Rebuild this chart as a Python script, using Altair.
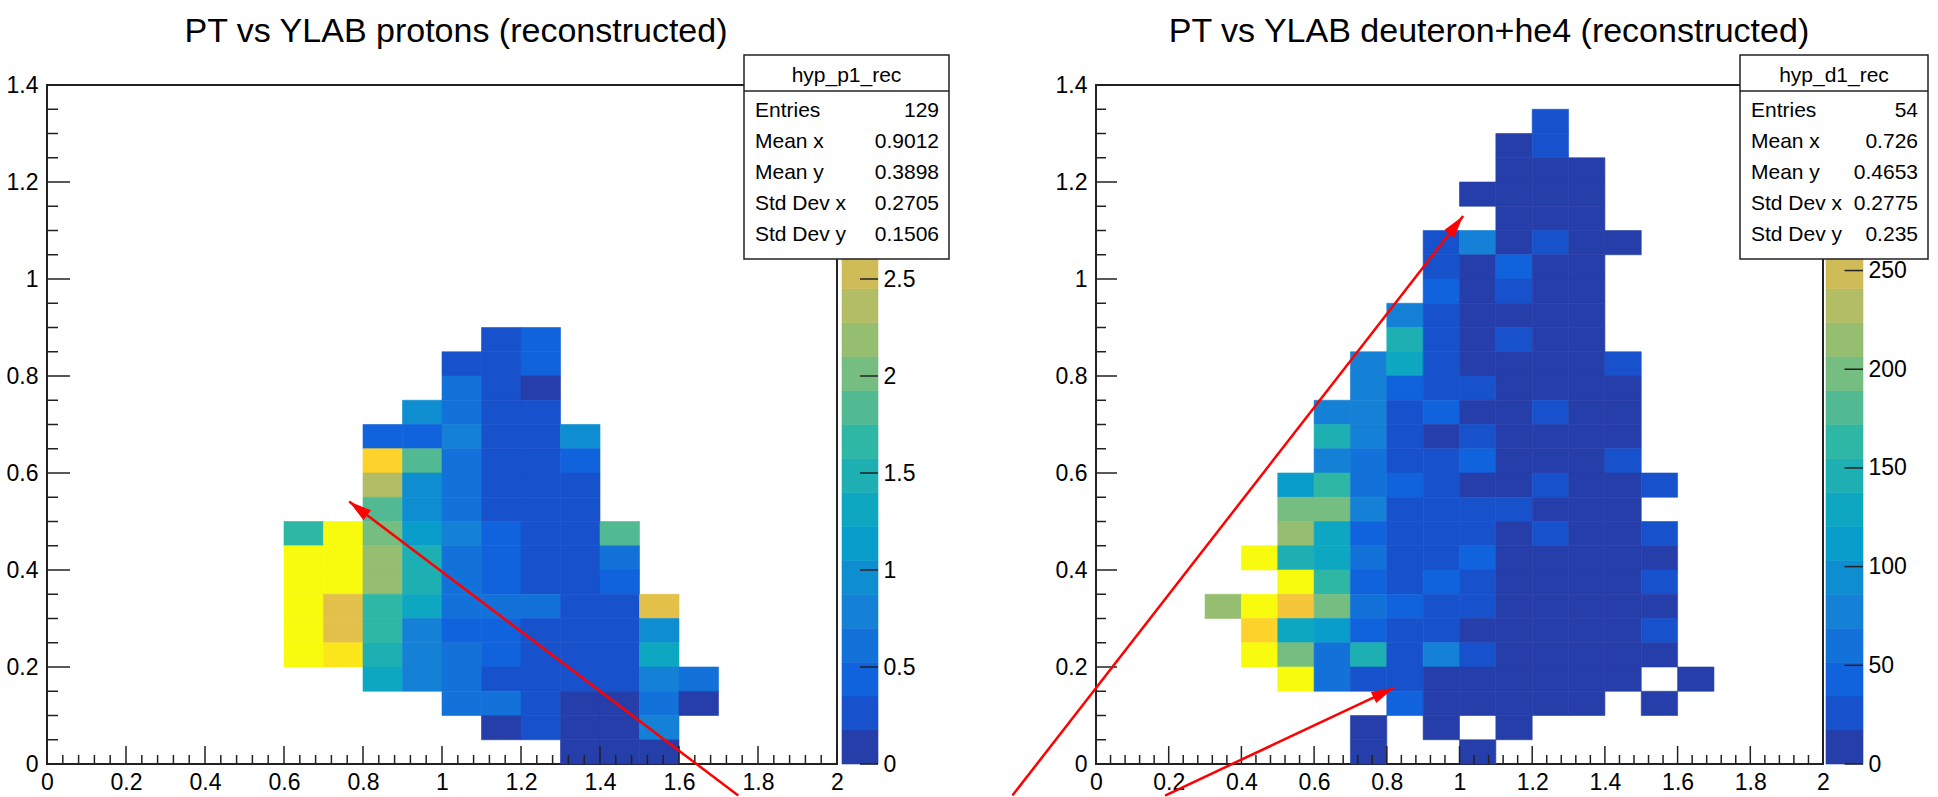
import math

import altair as alt
import pandas as pd

FONT = "Liberation Sans Narrow, Arial Narrow, Noto Sans Condensed, Liberation Sans, Arial, sans-serif"
INK = "#222222"
ARROW_RED = "#ff0000"

# ROOT kBird palette, split into 20 contour levels
BIRD_STOPS = [0.0000, 0.1250, 0.2500, 0.3750, 0.5000, 0.6250, 0.7500, 0.8750, 1.0000]
BIRD_R = [0.2082, 0.0592, 0.0780, 0.0232, 0.1802, 0.5301, 0.8186, 0.9956, 0.9764]
BIRD_G = [0.1664, 0.3599, 0.5041, 0.6419, 0.7178, 0.7492, 0.7328, 0.7862, 0.9832]
BIRD_B = [0.5293, 0.8684, 0.8385, 0.7914, 0.6425, 0.4662, 0.3499, 0.1968, 0.0539]
N_CONTOURS = 20

# ---- protons: PT (y) vs YLAB (x), bin contents, rows listed from top to bottom
P_XBINS = [0.6, 0.7, 0.8, 0.9, 1.0, 1.1, 1.2, 1.3, 1.4, 1.5, 1.6]
P_YBINS = [0.85, 0.80, 0.75, 0.70, 0.65, 0.60, 0.55, 0.50, 0.45,
           0.40, 0.35, 0.30, 0.25, 0.20, 0.15, 0.10, 0.05, 0.00]
P_COUNTS = [
    [0, 0, 0, 0, 0, 0.26, 0.44, 0, 0, 0, 0],
    [0, 0, 0, 0, 0.26, 0.26, 0.44, 0, 0, 0, 0],
    [0, 0, 0, 0, 0.61, 0.26, 0.09, 0, 0, 0, 0],
    [0, 0, 0, 0.96, 0.61, 0.26, 0.26, 0, 0, 0, 0],
    [0, 0, 0.44, 0.44, 0.79, 0.26, 0.26, 0.96, 0, 0, 0],
    [0, 0, 3.06, 1.84, 0.61, 0.26, 0.26, 0.44, 0, 0, 0],
    [0, 0, 2.36, 0.96, 0.61, 0.26, 0.26, 0.26, 0, 0, 0],
    [0, 0, 1.84, 0.96, 0.61, 0.26, 0.26, 0.26, 0, 0, 0],
    [1.66, 3.41, 2.01, 1.14, 0.79, 0.44, 0.26, 0.26, 1.84, 0, 0],
    [3.41, 3.41, 2.19, 1.49, 0.61, 0.44, 0.26, 0.26, 0.61, 0, 0],
    [3.41, 3.41, 2.19, 1.49, 0.61, 0.44, 0.26, 0.26, 0.44, 0, 0],
    [3.41, 2.71, 1.66, 1.31, 0.61, 0.61, 0.61, 0.26, 0.26, 2.71, 0],
    [3.41, 2.71, 1.66, 0.79, 0.44, 0.44, 0.26, 0.26, 0.26, 0.96, 0],
    [3.41, 3.24, 1.49, 0.79, 0.61, 0.44, 0.26, 0.26, 0.26, 1.31, 0],
    [0, 0, 1.31, 0.79, 0.61, 0.26, 0.26, 0.26, 0.26, 0.79, 0.61],
    [0, 0, 0, 0, 0.61, 0.61, 0.26, 0.09, 0.09, 0.61, 0.09],
    [0, 0, 0, 0, 0, 0.09, 0.26, 0.09, 0.09, 0.79, 0],
    [0, 0, 0, 0, 0, 0, 0, 0.09, 0.09, 0.09, 0],
]
P_ZMAX = 3.5
P_SCALE_LABELS = [0, 0.5, 1, 1.5, 2, 2.5]
P_TITLE = "PT vs YLAB protons (reconstructed)"
P_STATS_NAME = "hyp_p1_rec"
P_STATS = [("Entries", "129"), ("Mean x", "0.9012"), ("Mean y", "0.3898"),
           ("Std Dev x", "0.2705"), ("Std Dev y", "0.1506")]
P_ARROWS = [{"x_tail": 1.75, "y_tail": -0.065, "x_tip": 0.765, "y_tip": 0.541}]

# ---- deuteron + he4
D_XBINS = [0.3, 0.4, 0.5, 0.6, 0.7, 0.8, 0.9, 1.0, 1.1, 1.2, 1.3, 1.4, 1.5, 1.6]
D_YBINS = [1.30, 1.25, 1.20, 1.15, 1.10, 1.05, 1.00, 0.95, 0.90, 0.85, 0.80,
           0.75, 0.70, 0.65, 0.60, 0.55, 0.50, 0.45, 0.40, 0.35, 0.30, 0.25,
           0.20, 0.15, 0.10, 0.05, 0.00]
D_COUNTS = [
    [0, 0, 0, 0, 0, 0, 0, 0, 0, 26, 0, 0, 0, 0],
    [0, 0, 0, 0, 0, 0, 0, 0, 9, 26, 0, 0, 0, 0],
    [0, 0, 0, 0, 0, 0, 0, 0, 9, 9, 9, 0, 0, 0],
    [0, 0, 0, 0, 0, 0, 0, 9, 9, 9, 9, 0, 0, 0],
    [0, 0, 0, 0, 0, 0, 0, 0, 9, 9, 9, 0, 0, 0],
    [0, 0, 0, 0, 0, 0, 26, 77, 9, 26, 9, 9, 0, 0],
    [0, 0, 0, 0, 0, 0, 26, 9, 43, 9, 9, 0, 0, 0],
    [0, 0, 0, 0, 0, 0, 43, 9, 26, 9, 9, 0, 0, 0],
    [0, 0, 0, 0, 0, 77, 26, 9, 9, 9, 9, 0, 0, 0],
    [0, 0, 0, 0, 0, 146, 26, 9, 26, 9, 9, 0, 0, 0],
    [0, 0, 0, 0, 77, 129, 26, 9, 9, 9, 9, 26, 0, 0],
    [0, 0, 0, 0, 77, 43, 26, 26, 9, 9, 9, 9, 0, 0],
    [0, 0, 0, 77, 77, 26, 43, 9, 9, 26, 9, 9, 0, 0],
    [0, 0, 0, 146, 77, 26, 9, 26, 9, 9, 9, 9, 0, 0],
    [0, 0, 0, 77, 60, 26, 26, 43, 9, 9, 9, 26, 0, 0],
    [0, 0, 112, 163, 60, 43, 26, 9, 9, 26, 9, 9, 26, 0],
    [0, 0, 198, 198, 77, 26, 26, 26, 26, 9, 9, 9, 0, 0],
    [0, 0, 215, 129, 43, 26, 26, 26, 9, 26, 9, 9, 26, 0],
    [0, 335, 146, 129, 60, 26, 26, 43, 9, 9, 9, 9, 9, 0],
    [0, 0, 335, 163, 43, 26, 43, 26, 9, 9, 9, 9, 26, 0],
    [215, 335, 284, 198, 60, 43, 26, 26, 9, 9, 9, 9, 9, 0],
    [0, 301, 129, 112, 43, 26, 26, 9, 9, 9, 9, 9, 26, 0],
    [0, 335, 198, 60, 146, 26, 77, 26, 9, 9, 9, 9, 9, 0],
    [0, 0, 335, 60, 26, 26, 9, 9, 9, 9, 9, 9, 0, 9],
    [0, 0, 0, 0, 0, 43, 9, 9, 9, 9, 9, 0, 9, 0],
    [0, 0, 0, 0, 9, 0, 9, 0, 9, 0, 0, 0, 0, 0],
    [0, 0, 0, 0, 9, 0, 0, 9, 0, 0, 0, 0, 0, 0],
]
D_ZMAX = 344
D_SCALE_LABELS = [0, 50, 100, 150, 200, 250]
D_TITLE = "PT vs YLAB deuteron+he4 (reconstructed)"
D_STATS_NAME = "hyp_d1_rec"
D_STATS = [("Entries", "54"), ("Mean x", "0.726"), ("Mean y", "0.4653"),
           ("Std Dev x", "0.2775"), ("Std Dev y", "0.235")]
D_ARROWS = [
    {"x_tail": -0.23, "y_tail": -0.065, "x_tip": 1.01, "y_tip": 1.13},
    {"x_tail": 0.19, "y_tail": -0.065, "x_tip": 0.82, "y_tip": 0.157},
]

X_MAJOR = [0, 0.2, 0.4, 0.6, 0.8, 1, 1.2, 1.4, 1.6, 1.8, 2]
Y_MAJOR = [0, 0.2, 0.4, 0.6, 0.8, 1, 1.2, 1.4]
X_MINOR = [round(0.04 * i, 2) for i in range(1, 50) if i % 5]
Y_MINOR = [round(0.05 * i, 2) for i in range(1, 28) if i % 4]

BIN_W = 0.1
BIN_H = 0.05
PLOT_H = 679
LABEL_SIZE = 23
TITLE_SIZE = 34
STATS_SIZE = 21
ARROW_HEAD = "M0,0 L0.3,1.1 L-0.3,1.1 Z"


def bird(f):
    f = min(max(f, 0.0), 1.0)
    for i in range(len(BIRD_STOPS) - 1):
        if f <= BIRD_STOPS[i + 1]:
            t = (f - BIRD_STOPS[i]) / (BIRD_STOPS[i + 1] - BIRD_STOPS[i])
            rgb = [c[i] + t * (c[i + 1] - c[i]) for c in (BIRD_R, BIRD_G, BIRD_B)]
            return "#%02x%02x%02x" % tuple(round(255 * v) for v in rgb)
    return "#f9fb0e"


CONTOUR_COLORS = [bird((k + 0.99) / N_CONTOURS) for k in range(N_CONTOURS)]


def z_scale(zmax):
    return alt.Scale(type="quantize", domain=[0, zmax], range=CONTOUR_COLORS, nice=False)


def cells_frame(xbins, ybins, counts):
    rows = []
    for yi, y0 in enumerate(ybins):
        for xi, x0 in enumerate(xbins):
            v = counts[yi][xi]
            if v > 0:
                rows.append({"x0": x0, "x1": round(x0 + BIN_W, 3),
                             "y0": y0, "y1": round(y0 + BIN_H, 3), "v": v})
    return pd.DataFrame(rows)


def text_layer(s, x, y, size, align="left"):
    return alt.Chart(pd.DataFrame({"s": [s]})).mark_text(
        font=FONT, fontSize=size, color="black", align=align, baseline="alphabetic"
    ).encode(x=alt.value(x), y=alt.value(y), text="s:N")


def heat_panel(xbins, ybins, counts, zmax, width, title, title_x, arrows, ytick):
    xsc = alt.Scale(domain=[0, 2], nice=False, zero=False)
    ysc = alt.Scale(domain=[0, 1.4], nice=False, zero=False)
    x_axis = alt.Axis(values=X_MAJOR, format="~g", ticks=False, domain=False, grid=False,
                      title=None, labelFont=FONT, labelFontSize=LABEL_SIZE, labelColor="black",
                      labelPadding=7, labelFlush=False, labelOverlap=False)
    y_axis = alt.Axis(values=Y_MAJOR, format="~g", ticks=False, domain=False, grid=False,
                      title=None, labelFont=FONT, labelFontSize=LABEL_SIZE, labelColor="black",
                      labelPadding=9, labelFlush=False, labelOverlap=False)
    zsc = z_scale(zmax)

    heat = alt.Chart(cells_frame(xbins, ybins, counts)).mark_rect(strokeWidth=0.6).encode(
        x=alt.X("x0:Q", scale=xsc, axis=x_axis),
        x2=alt.X2("x1"),
        y=alt.Y("y0:Q", scale=ysc, axis=y_axis),
        y2=alt.Y2("y1"),
        color=alt.Color("v:Q", scale=zsc, legend=None),
        stroke=alt.Stroke("v:Q", scale=zsc, legend=None),
    )

    def xticks(values, length):
        return alt.Chart(pd.DataFrame({"t": values})).mark_rule(
            color=INK, strokeWidth=1.5).encode(
            x=alt.X("t:Q", scale=xsc, axis=x_axis),
            y=alt.value(PLOT_H), y2=alt.value(PLOT_H - length))

    def yticks(values, length):
        return alt.Chart(pd.DataFrame({"t": values})).mark_rule(
            color=INK, strokeWidth=1.5).encode(
            y=alt.Y("t:Q", scale=ysc, axis=y_axis),
            x=alt.value(0), x2=alt.value(length))

    px_x = width / 2.0
    px_y = PLOT_H / 1.4
    arrow_df = pd.DataFrame(arrows)
    arrow_df["ang"] = [
        math.degrees(math.atan2((a["x_tip"] - a["x_tail"]) * px_x,
                                (a["y_tip"] - a["y_tail"]) * px_y)) % 360
        for a in arrows
    ]
    shafts = alt.Chart(arrow_df).mark_rule(color=ARROW_RED, strokeWidth=2.5).encode(
        x=alt.X("x_tail:Q", scale=xsc, axis=x_axis),
        y=alt.Y("y_tail:Q", scale=ysc, axis=y_axis),
        x2=alt.X2("x_tip"), y2=alt.Y2("y_tip"),
    )
    heads = alt.Chart(arrow_df).mark_point(
        shape=ARROW_HEAD, filled=True, color=ARROW_RED, opacity=1, size=1700).encode(
        x=alt.X("x_tip:Q", scale=xsc, axis=x_axis),
        y=alt.Y("y_tip:Q", scale=ysc, axis=y_axis),
        angle=alt.Angle("ang:Q", scale=None),
    )

    return alt.layer(
        heat,
        xticks(X_MAJOR, 18), xticks(X_MINOR, 9),
        yticks(Y_MAJOR, ytick), yticks(Y_MINOR, ytick // 2),
        text_layer(title, title_x, -43, TITLE_SIZE, align="center"),
        shafts, heads,
    ).properties(width=width, height=PLOT_H,
                 view=alt.ViewBackground(stroke=INK, strokeWidth=2))


def colour_bar(zmax, gap, bar_w, labels, stats_name, stats, box):
    zsc = z_scale(zmax)
    ysc = alt.Scale(domain=[0, zmax], nice=False, zero=False)
    step = zmax / N_CONTOURS
    width = gap + bar_w
    bands_df = pd.DataFrame({
        "z0": [k * step for k in range(N_CONTOURS)],
        "z1": [(k + 1) * step for k in range(N_CONTOURS)],
        "zc": [(k + 0.5) * step for k in range(N_CONTOURS)],
    })
    axis = alt.Axis(orient="right", values=labels, format="~f", ticks=False, domain=False,
                    grid=False, title=None, labelFont=FONT, labelFontSize=LABEL_SIZE,
                    labelColor="black", labelPadding=5, labelFlush=False, labelOverlap=False)
    bands = alt.Chart(bands_df).mark_rect(strokeWidth=0.6).encode(
        x=alt.value(gap), x2=alt.value(width),
        y=alt.Y("z0:Q", scale=ysc, axis=axis), y2=alt.Y2("z1"),
        color=alt.Color("zc:Q", scale=zsc, legend=None),
        stroke=alt.Stroke("zc:Q", scale=zsc, legend=None),
    )
    ticks = alt.Chart(pd.DataFrame({"z": labels})).mark_rule(color=INK, strokeWidth=1.5).encode(
        y=alt.Y("z:Q", scale=ysc, axis=axis),
        x=alt.value(gap + bar_w * 0.5), x2=alt.value(width),
    )

    bx0, bx1, by0, by1 = box
    one = pd.DataFrame({"k": [0]})
    frame = alt.Chart(one).mark_rect(fill="white", stroke=INK, strokeWidth=1.5).encode(
        x=alt.value(bx0), x2=alt.value(bx1), y=alt.value(by0), y2=alt.value(by1))
    sep = alt.Chart(one).mark_rule(color=INK, strokeWidth=1.5).encode(
        x=alt.value(bx0), x2=alt.value(bx1), y=alt.value(by0 + 36))
    layers = [bands, ticks, frame, sep,
              text_layer(stats_name, (bx0 + bx1) / 2, by0 + 27, STATS_SIZE, align="center")]
    for i, (name, val) in enumerate(stats):
        yb = by0 + 62 + 31 * i
        layers.append(text_layer(name, bx0 + 11, yb, STATS_SIZE))
        layers.append(text_layer(val, bx1 - 10, yb, STATS_SIZE, align="right"))
    return alt.layer(*layers).properties(
        width=width, height=PLOT_H, view=alt.ViewBackground(stroke="transparent"))


def spacer(width):
    one = pd.DataFrame({"k": [0]})
    return alt.Chart(one).mark_rect(opacity=0).encode(
        x=alt.value(0), x2=alt.value(1), y=alt.value(0), y2=alt.value(1)
    ).properties(width=width, height=PLOT_H, view=alt.ViewBackground(stroke="transparent"))


# plot frames: left 50..840, right 1099..1826; colour bars 845..881 and 1829..1866
left_panel = heat_panel(P_XBINS, P_YBINS, P_COUNTS, P_ZMAX, 790, P_TITLE, 409, P_ARROWS, 23)
left_bar = colour_bar(P_ZMAX, 5, 36, P_SCALE_LABELS, P_STATS_NAME, P_STATS,
                      (-93, 112, -30, 174))
right_panel = heat_panel(D_XBINS, D_YBINS, D_COUNTS, D_ZMAX, 727, D_TITLE, 393, D_ARROWS, 21)
right_bar = colour_bar(D_ZMAX, 3, 37, D_SCALE_LABELS, D_STATS_NAME, D_STATS,
                       (-83, 105, -30, 174))

chart = alt.hconcat(
    left_panel, left_bar, spacer(218), right_panel, right_bar,
    spacing=0, bounds="flush",
).resolve_scale(
    color="independent", stroke="independent",
).properties(
    padding={"left": 5, "top": 14, "right": 0, "bottom": 0},
    background="white",
)

chart.save("out.html", embed_options={"renderer": "svg", "actions": False})
